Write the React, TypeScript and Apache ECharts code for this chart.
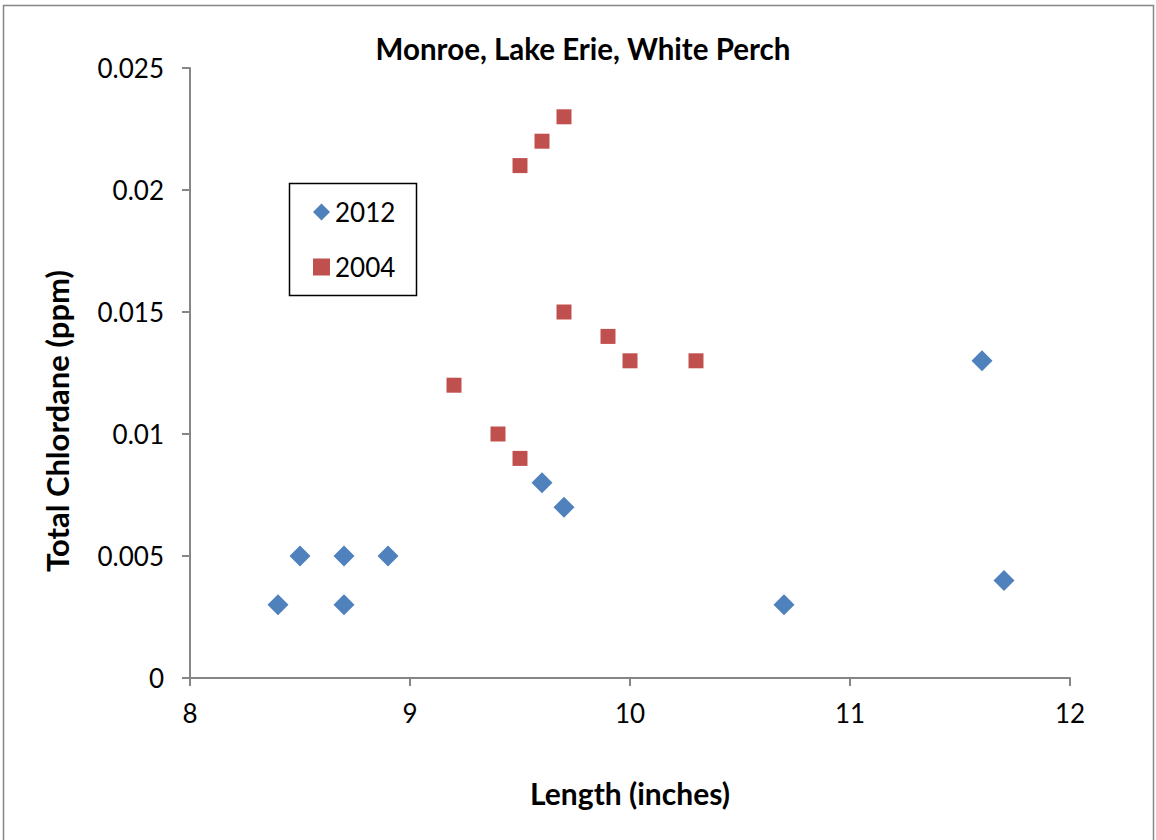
import React, { useEffect, useRef } from "react";
import * as echarts from "echarts";

const TITLE = "Monroe, Lake Erie, White Perch";
const X_NAME = "Length (inches)";
const Y_NAME = "Total Chlordane (ppm)";

const series2012Length = [8.4, 8.5, 8.7, 8.7, 8.9, 9.6, 9.7, 10.7, 11.6, 11.7];
const series2012Value = [0.003, 0.005, 0.005, 0.003, 0.005, 0.008, 0.007, 0.003, 0.013, 0.004];

const series2004Length = [9.2, 9.4, 9.5, 9.5, 9.6, 9.7, 9.7, 9.9, 10.0, 10.3];
const series2004Value = [0.012, 0.01, 0.009, 0.021, 0.022, 0.023, 0.015, 0.014, 0.013, 0.013];

const FONT = "Lato, 'Open Sans', sans-serif";

export default function App() {
  const ref = useRef<HTMLDivElement>(null);
  useEffect(() => {
    if (!ref.current) return;
    const chart = echarts.init(ref.current, undefined, { renderer: "svg" });
    const axisColor = "#868686";
    chart.setOption({
      animation: false,
      backgroundColor: "#ffffff",
      textStyle: { fontFamily: FONT },
      title: {
        text: TITLE,
        left: 578,
        top: 28,
        textAlign: "center",
        textStyle: { fontSize: 29.5, fontWeight: "bold", color: "#000", fontFamily: FONT },
      },
      grid: { left: 190, top: 68, width: 880, height: 610, containLabel: false },
      xAxis: {
        type: "value",
        min: 8,
        max: 12,
        interval: 1,
        name: X_NAME,
        nameLocation: "middle",
        nameGap: 100,
        nameTextStyle: { fontSize: 30, fontWeight: "bold", color: "#000", fontFamily: FONT },
        axisLine: { show: true, lineStyle: { color: axisColor, width: 2 } },
        axisTick: { show: true, length: 8, lineStyle: { color: axisColor, width: 2 } },
        axisLabel: { fontSize: 26, color: "#000", margin: 22, fontFamily: FONT },
        splitLine: { show: false },
      },
      yAxis: {
        type: "value",
        min: 0,
        max: 0.025,
        interval: 0.005,
        axisLine: { show: true, lineStyle: { color: axisColor, width: 2 } },
        axisTick: { show: true, length: 8, lineStyle: { color: axisColor, width: 2 } },
        axisLabel: {
          fontSize: 26,
          color: "#000",
          margin: 26,
          fontFamily: FONT,
          formatter: (v: number) => String(parseFloat(v.toFixed(3))),
        },
        splitLine: { show: false },
      },
      legend: {
        orient: "vertical",
        left: 313,
        top: 199,
        padding: 0,
        itemGap: 29,
        itemWidth: 17,
        itemHeight: 17,
        textStyle: { fontSize: 26, color: "#000", fontFamily: FONT },
        data: [
          { name: "2012", icon: "diamond" },
          { name: "2004", icon: "rect" },
        ],
      },
      graphic: [
        {
          type: "rect",
          shape: { x: 3.5, y: 5.5, width: 1150, height: 850 },
          style: { fill: "none", stroke: "#868686", lineWidth: 1.5 },
          silent: true,
        },
        {
          type: "rect",
          shape: { x: 289.5, y: 183.5, width: 127, height: 112 },
          style: { fill: "none", stroke: "#000", lineWidth: 1.5 },
          silent: true,
        },
        {
          type: "text",
          x: 57,
          y: 421,
          rotation: Math.PI / 2,
          silent: true,
          style: {
            text: Y_NAME,
            fontSize: 31,
            fontWeight: "bold",
            fontFamily: FONT,
            fill: "#000",
            align: "center",
            verticalAlign: "middle",
          },
        },
      ],
      series: [
        {
          name: "2012",
          type: "scatter",
          symbol: "diamond",
          symbolSize: 21,
          itemStyle: { color: "#4F81BD", opacity: 1 },
          data: series2012Length.map((x, i) => [x, series2012Value[i]]),
        },
        {
          name: "2004",
          type: "scatter",
          symbol: "rect",
          symbolSize: 15,
          itemStyle: { color: "#C0504D", opacity: 1 },
          data: series2004Length.map((x, i) => [x, series2004Value[i]]),
        },
      ],
    });
    return () => chart.dispose();
  }, []);
  return (
    <div
      ref={ref}
      style={{ position: "fixed", left: 0, top: 0, width: 1156, height: 840, background: "#fff" }}
    />
  );
}
